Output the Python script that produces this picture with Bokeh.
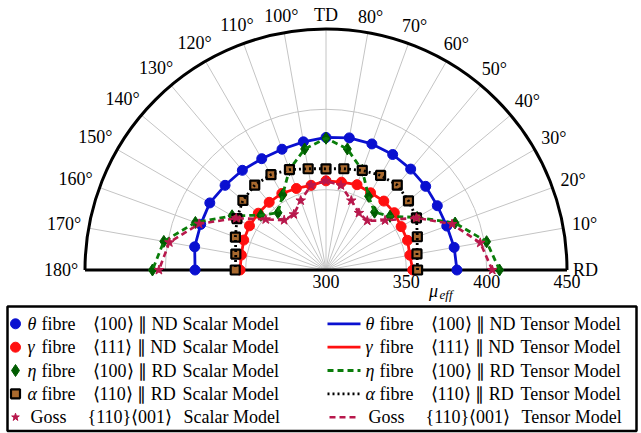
import numpy as np
from bokeh.plotting import figure
from bokeh.models import Range1d
from bokeh.core.properties import value
from bokeh.embed import file_html
from bokeh.resources import INLINE

# ---------------- data ----------------
angles_deg = [0, 10, 20, 30, 40, 50, 60, 70, 80, 90, 100, 110, 120, 130, 140, 150, 160, 170, 180]

theta_scalar = [381.5, 381, 380, 380, 381, 382, 383, 383.5, 383.5, 382.5, 381, 380, 380, 381, 382, 383.5, 383, 383, 381.5]
gamma_scalar = [354, 353, 354, 354, 355.5, 356, 355.5, 356.5, 355.5, 355.5, 353.5, 354, 355, 355, 355, 355, 354.5, 353.5, 353.5]
eta_scalar = [408, 401.5, 385.5, 365.5, 352, 347, 353, 366, 376.5, 382, 376.5, 366.5, 354, 346.5, 353, 367.5, 386.5, 402.5, 408]
alpha_scalar = [357, 357.5, 360.5, 365, 367, 369, 368, 366, 364, 363, 364, 366.5, 368.5, 369, 367.5, 364, 360, 357, 356.5]
goss_scalar = [403.5, 397.5, 383.5, 365, 348, 340, 341, 346, 353.5, 355.5, 353.5, 346, 340, 340.5, 349, 364.5, 384, 399, 404]

theta_tensor = [381.5, 381, 380, 380, 381, 382, 383, 383.5, 383.5, 382.5, 381, 380, 380, 381, 382, 383.5, 383, 383, 381.5]
gamma_tensor = [354, 353, 354, 354, 355.5, 356, 355.5, 356.5, 355.5, 355.5, 353.5, 354, 355, 355, 355, 355, 354.5, 353.5, 353.5]
eta_tensor = [408, 401.5, 385.5, 365.5, 352, 347, 353, 366, 376.5, 382, 376.5, 366.5, 354, 346.5, 353, 367.5, 386.5, 402.5, 408]
alpha_tensor = [357, 357.5, 360.5, 365, 367, 369, 368, 366, 364, 363, 364, 366.5, 368.5, 369, 367.5, 364, 360, 357, 356.5]
goss_tensor = [403.5, 397.5, 383.5, 365, 348, 340, 341, 346, 353.5, 355.5, 353.5, 346, 340, 340.5, 349, 364.5, 384, 399, 404]

r_min, r_max = 300, 450
r_ticks = [300, 350, 400, 450]
r_grid = [350, 400]
angle_ticks = [0, 10, 20, 30, 40, 50, 60, 70, 80, 90, 100, 110, 120, 130, 140, 150, 160, 170, 180]
angle_labels = ["RD", "10°", "20°", "30°", "40°", "50°", "60°", "70°", "80°", "TD",
                "100°", "110°", "120°", "130°", "140°", "150°", "160°", "170°", "180°"]

# ---------------- layout ----------------
W, H = 641, 433
S = 241.0 / (r_max - r_min)      # px per unit
CX, CY = 325.5, 269.5            # pole in page px (from top-left)
x0, x1 = -CX / S, (W - CX) / S
y0, y1 = -(H - CY) / S, CY / S

def PX(page_x):
    return x0 + page_x / S

def PY(page_y):
    return y1 - page_y / S

FONT = value("Liberation Serif")
FS = value("18px")

p = figure(width=W, height=H, x_range=Range1d(x0, x1), y_range=Range1d(y0, y1),
           output_backend="svg", toolbar_location=None, min_border=0,
           x_axis_type=None, y_axis_type=None)
p.grid.visible = False
p.outline_line_color = None
p.background_fill_color = "white"
p.border_fill_color = "white"

R = r_max - r_min
th_ticks = np.radians(angle_ticks)

# grid
p.multi_line(xs=[[0, R * np.cos(t)] for t in th_ticks], ys=[[0, R * np.sin(t)] for t in th_ticks],
             line_color="#c4c4c4", line_width=1)
p.arc(x=0, y=0, radius=[g - r_min for g in r_grid], start_angle=0, end_angle=np.pi,
      line_color="#c4c4c4", line_width=1)

# axis frame
p.arc(x=0, y=0, radius=R, start_angle=0, end_angle=np.pi, line_color="black", line_width=3)
p.line([-R, R], [0, 0], line_color="black", line_width=3)

# angular labels
hw = {2: 11.5, 3: 13.5, 4: 17.0}
lx, ly = [], []
for t, lab in zip(th_ticks, angle_labels):
    d = R * S + 7 + hw[len(lab)] * abs(np.cos(t)) + 7 * abs(np.sin(t))
    lx.append(d / S * np.cos(t))
    ly.append(d / S * np.sin(t))
p.text(x=lx, y=ly, text=angle_labels, text_font=FONT, text_font_size=FS,
       text_align="center", text_baseline="middle", text_color="black")

# radial labels
p.text(x=[v - r_min for v in r_ticks], y=[-11.5 / S] * len(r_ticks), text=[str(v) for v in r_ticks],
       text_font=FONT, text_font_size=FS, text_align="center",
       text_baseline="middle", text_color="black")
p.text(x=[PX(433)], y=[PY(290)], text=["μ"], text_font=FONT, text_font_size=FS,
       text_font_style="italic", text_align="center", text_baseline="middle")
p.text(x=[PX(439)], y=[PY(294)], text=["eff"], text_font=FONT, text_font_size=value("13px"),
       text_font_style="italic", text_align="left", text_baseline="middle")

def xy(vals):
    r = np.array(vals, dtype=float) - r_min
    t = np.radians(angles_deg)
    return r * np.cos(t), r * np.sin(t)

BLUE = "#0a10d0"
RED = "#ff1010"
GREEN = "#0a7d0a"
DGREEN = "#005c00"
BROWN = "#a8692e"
CRIMSON = "#b8184c"

styles = {
    "theta": dict(marker="circle", size=10, fill_color=BLUE, line_color=BLUE, line_width=1),
    "gamma": dict(marker="circle", size=10, fill_color=RED, line_color=RED, line_width=1),
    "eta": dict(marker="diamond", size=12, fill_color=DGREEN, line_color=DGREEN, line_width=1),
    "alpha": dict(marker="square", size=9, fill_color=BROWN, line_color="black", line_width=2.2),
    "goss": dict(marker="star", size=10, fill_color=CRIMSON, line_color=CRIMSON, line_width=1),
}
lstyles = {
    "theta": dict(line_color=BLUE, line_width=2.8),
    "gamma": dict(line_color=RED, line_width=2.8),
    "eta": dict(line_color=GREEN, line_width=2.8, line_dash="6 4"),
    "alpha": dict(line_color="black", line_width=2.8, line_dash="2 3"),
    "goss": dict(line_color=CRIMSON, line_width=2.6, line_dash="6 4"),
}

series = [("theta", theta_scalar, theta_tensor), ("gamma", gamma_scalar, gamma_tensor),
          ("eta", eta_scalar, eta_tensor), ("alpha", alpha_scalar, alpha_tensor),
          ("goss", goss_scalar, goss_tensor)]
for key, sc, te in series:
    xs, ys = xy(sc)
    p.scatter(xs, ys, **styles[key])
    xt, yt = xy(te)
    p.line(xt, yt, **lstyles[key])

# ---------------- legend ----------------
p.quad(left=[PX(7)], right=[PX(636)], top=[PY(306)], bottom=[PY(430.5)],
       fill_color=None, line_color="black", line_width=2.5)

row_y = [323.3, 346.7, 370, 393.3, 416.7]
keys = ["theta", "gamma", "eta", "alpha", "goss"]
greek = ["θ", "γ", "η", "α", None]
dirs = ["⟨100⟩ ∥ ND", "⟨111⟩ ∥ ND", "⟨100⟩ ∥ RD", "⟨110⟩ ∥ RD", "{110}⟨001⟩"]
COL = 338
for i, key in enumerate(keys):
    yy = PY(row_y[i])
    st = dict(styles[key])
    if key == "goss":
        st["size"] = 8
    p.scatter([PX(15)], [yy], **st)
    if key == "goss":
        p.line([PX(329), PX(356)], [yy, yy], **lstyles[key])
    else:
        p.line([PX(327), PX(360)], [yy, yy], **lstyles[key])

norm_x, norm_y, norm_t = [], [], []
ital_x, ital_y, ital_t = [], [], []
for i, key in enumerate(keys):
    yy = PY(row_y[i])
    for off, model in [(0, "Scalar Model"), (COL, "Tensor Model")]:
        if greek[i] is not None:
            ital_x.append(PX(27 + off)); ital_y.append(yy); ital_t.append(greek[i])
            norm_x.append(PX(41 + off)); norm_y.append(yy); norm_t.append("fibre")
            norm_x.append(PX(92 + off)); norm_y.append(yy); norm_t.append(dirs[i])
            norm_x.append(PX(182 + off)); norm_y.append(yy); norm_t.append(model)
        else:
            norm_x.append(PX(30 + off)); norm_y.append(yy); norm_t.append("Goss")
            norm_x.append(PX(87 + off)); norm_y.append(yy); norm_t.append(dirs[i])
            norm_x.append(PX(183 + off)); norm_y.append(yy); norm_t.append(model)

p.text(x=norm_x, y=norm_y, text=norm_t, text_font=FONT, text_font_size=FS,
       text_align="left", text_baseline="middle", text_color="black")
p.text(x=ital_x, y=ital_y, text=ital_t, text_font=FONT, text_font_size=FS,
       text_font_style="italic", text_align="left", text_baseline="middle", text_color="black")

open("out.html", "w").write(file_html(p, INLINE))
